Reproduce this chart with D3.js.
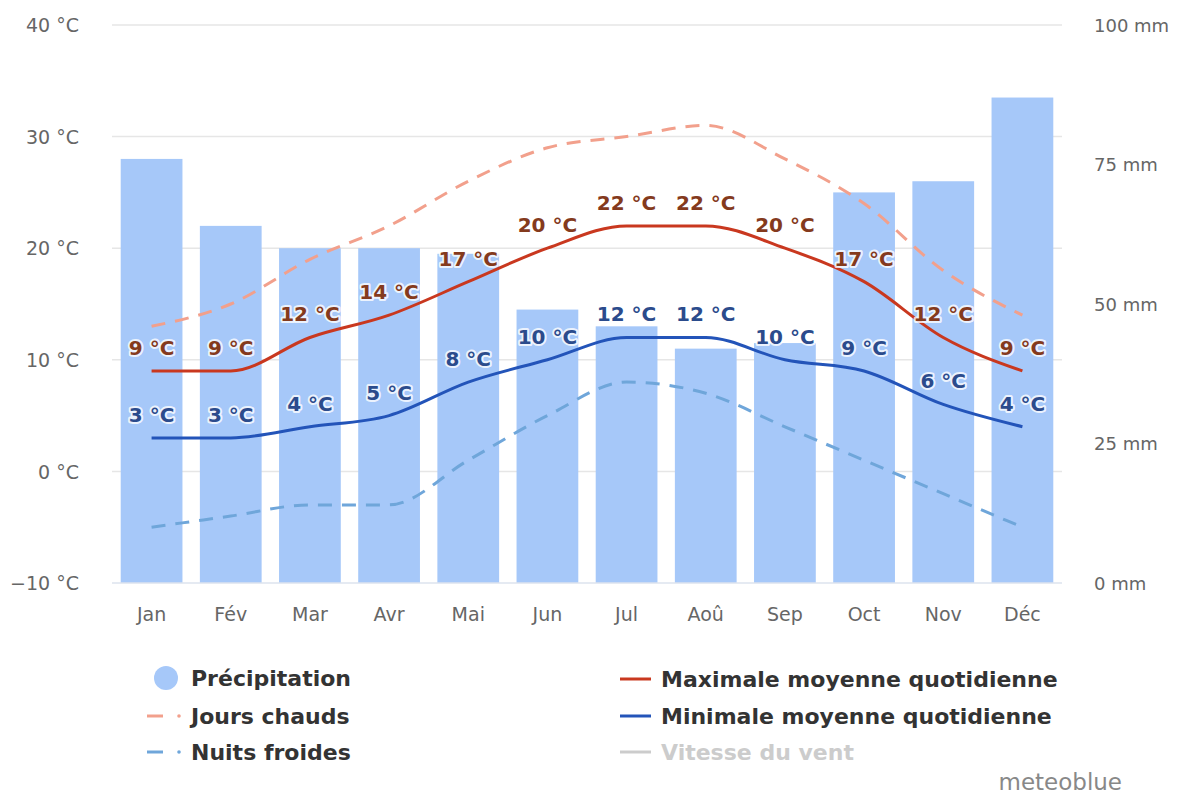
<!DOCTYPE html>
<html lang="fr">
<head>
<meta charset="UTF-8">
<title>Climat</title>
<style>
  body { margin: 0; padding: 0; background: #fff; }
  svg { display: block; font-family: "DejaVu Sans", sans-serif; }
</style>
</head>
<body>
<script src="https://d3js.org/d3.v7.min.js"></script>
<script>
// données
const months = ['Jan', 'Fév', 'Mar', 'Avr', 'Mai', 'Jun', 'Jul', 'Aoû', 'Sep', 'Oct', 'Nov', 'Déc'];
const precip = [76, 64, 60, 60, 59, 49, 46, 42, 43, 70, 72, 87];
const tMax = [9, 9, 12, 14, 17, 20, 22, 22, 20, 17, 12, 9];
const tMin = [3, 3, 4, 5, 8, 10, 12, 12, 10, 9, 6, 4];
const hotDays = [13, 15, 19, 22, 26, 29, 30, 31, 28, 24, 18, 14];
const coldNights = [-5, -4, -3, -3, 1, 5, 8, 7, 4, 1, -2, -5];
const tempTicks = [-10, 0, 10, 20, 30, 40];
const precipTicks = [0, 25, 50, 75, 100];

const width = 1190, height = 795;
const plotL = 112, plotR = 1062, plotT = 25, plotB = 583;

const svg = d3.select('body').append('svg')
  .attr('width', width)
  .attr('height', height);

const x = d3.scaleBand().domain(months).range([plotL, plotR])
  .paddingInner(0.22).paddingOuter(0.11);
const cx = m => x(m) + x.bandwidth() / 2;
const yT = d3.scaleLinear().domain([-10, 40]).range([plotB, plotT]);
const yP = d3.scaleLinear().domain([0, 100]).range([plotB, plotT]);
const fmt = d3.format('d');

// grille
svg.append('g').selectAll('line')
  .data(tempTicks.filter(d => d > -10))
  .join('line')
  .attr('x1', plotL).attr('x2', plotR)
  .attr('y1', d => yT(d)).attr('y2', d => yT(d))
  .attr('stroke', '#e6e6e6').attr('stroke-width', 1.5);

// barres précipitation
svg.append('g').selectAll('rect')
  .data(precip)
  .join('rect')
  .attr('x', (d, i) => x(months[i]))
  .attr('width', x.bandwidth())
  .attr('y', d => yP(d))
  .attr('height', d => yP(0) - yP(d))
  .attr('fill', '#a6c8f9');

svg.append('line')
  .attr('x1', plotL).attr('x2', plotR)
  .attr('y1', plotB).attr('y2', plotB)
  .attr('stroke', '#dde3ee').attr('stroke-width', 1.5);

// axes
const axL = svg.append('g').attr('transform', `translate(${plotL - 30},0)`)
  .call(d3.axisLeft(yT).tickValues(tempTicks).tickSize(0).tickFormat(d => fmt(d) + ' °C'));
const axR = svg.append('g').attr('transform', `translate(${plotR + 29},0)`)
  .call(d3.axisRight(yP).tickValues(precipTicks).tickSize(0).tickFormat(d => d + ' mm'));
const axB = svg.append('g').attr('transform', `translate(0,${plotB + 16})`)
  .call(d3.axisBottom(x).tickSize(0));
[axL, axR, axB].forEach(a => {
  a.select('.domain').remove();
  a.selectAll('text')
    .attr('fill', '#666')
    .attr('font-size', 19)
    .attr('font-family', '"DejaVu Sans", sans-serif');
});
axR.selectAll('text').attr('font-size', 18);
axL.selectAll('text').attr('dy', '0.35em');
axR.selectAll('text').attr('dy', '0.35em');
axB.selectAll('text').attr('dy', '1em');

// courbes
const line = d3.line()
  .x((d, i) => cx(months[i]))
  .y(d => yT(d))
  .curve(d3.curveMonotoneX);

const series = [
  { data: hotDays, color: '#f2a08c', dash: '14,10' },
  { data: coldNights, color: '#6fa6da', dash: '14,10' },
  { data: tMax, color: '#c9381f', dash: null },
  { data: tMin, color: '#2354b9', dash: null }
];
series.forEach(s => {
  svg.append('path')
    .attr('d', line(s.data))
    .attr('fill', 'none')
    .attr('stroke', s.color)
    .attr('stroke-width', 3)
    .attr('stroke-dasharray', s.dash);
});

// étiquettes
function labels(data, color) {
  const g = svg.append('g')
    .attr('font-size', 20)
    .attr('font-weight', 'bold')
    .attr('text-anchor', 'middle');
  g.selectAll('text.halo')
    .data(data)
    .join('text')
    .attr('class', 'halo')
    .attr('x', (d, i) => cx(months[i]))
    .attr('y', d => yT(d) - 16)
    .attr('fill', 'none')
    .attr('stroke', 'rgba(255,255,255,0.8)')
    .attr('stroke-width', 4)
    .attr('stroke-linejoin', 'round')
    .text(d => d + ' °C');
  g.selectAll('text.lbl')
    .data(data)
    .join('text')
    .attr('class', 'lbl')
    .attr('x', (d, i) => cx(months[i]))
    .attr('y', d => yT(d) - 16)
    .attr('fill', color)
    .text(d => d + ' °C');
}
labels(tMax, '#843a1d');
labels(tMin, '#2b4b8c');

// légende
const lg = svg.append('g')
  .attr('font-size', 22)
  .attr('font-weight', 'bold')
  .attr('fill', '#333');

lg.append('circle').attr('cx', 166).attr('cy', 678).attr('r', 12).attr('fill', '#a6c8f9');
lg.append('text').attr('x', 191).attr('y', 686).text('Précipitation');

const dashItems = [
  { y: 716, color: '#f2a08c', label: 'Jours chauds' },
  { y: 752, color: '#6fa6da', label: 'Nuits froides' }
];
dashItems.forEach(it => {
  lg.append('line').attr('x1', 147).attr('x2', 163).attr('y1', it.y).attr('y2', it.y)
    .attr('stroke', it.color).attr('stroke-width', 3);
  lg.append('circle').attr('cx', 179).attr('cy', it.y).attr('r', 1.8).attr('fill', it.color);
  lg.append('text').attr('x', 191).attr('y', it.y + 8).text(it.label);
});

const lineItems = [
  { y: 679, color: '#c9381f', label: 'Maximale moyenne quotidienne', text: '#333' },
  { y: 716, color: '#2354b9', label: 'Minimale moyenne quotidienne', text: '#333' },
  { y: 752, color: '#cccccc', label: 'Vitesse du vent', text: '#cccccc' }
];
lineItems.forEach(it => {
  lg.append('line').attr('x1', 620).attr('x2', 651).attr('y1', it.y).attr('y2', it.y)
    .attr('stroke', it.color).attr('stroke-width', 3);
  lg.append('text').attr('x', 661).attr('y', it.y + 8).attr('fill', it.text).text(it.label);
});

svg.append('text')
  .attr('x', 1122).attr('y', 790)
  .attr('text-anchor', 'end')
  .attr('font-size', 23)
  .attr('fill', '#888')
  .text('meteoblue');
</script>
</body>
</html>
